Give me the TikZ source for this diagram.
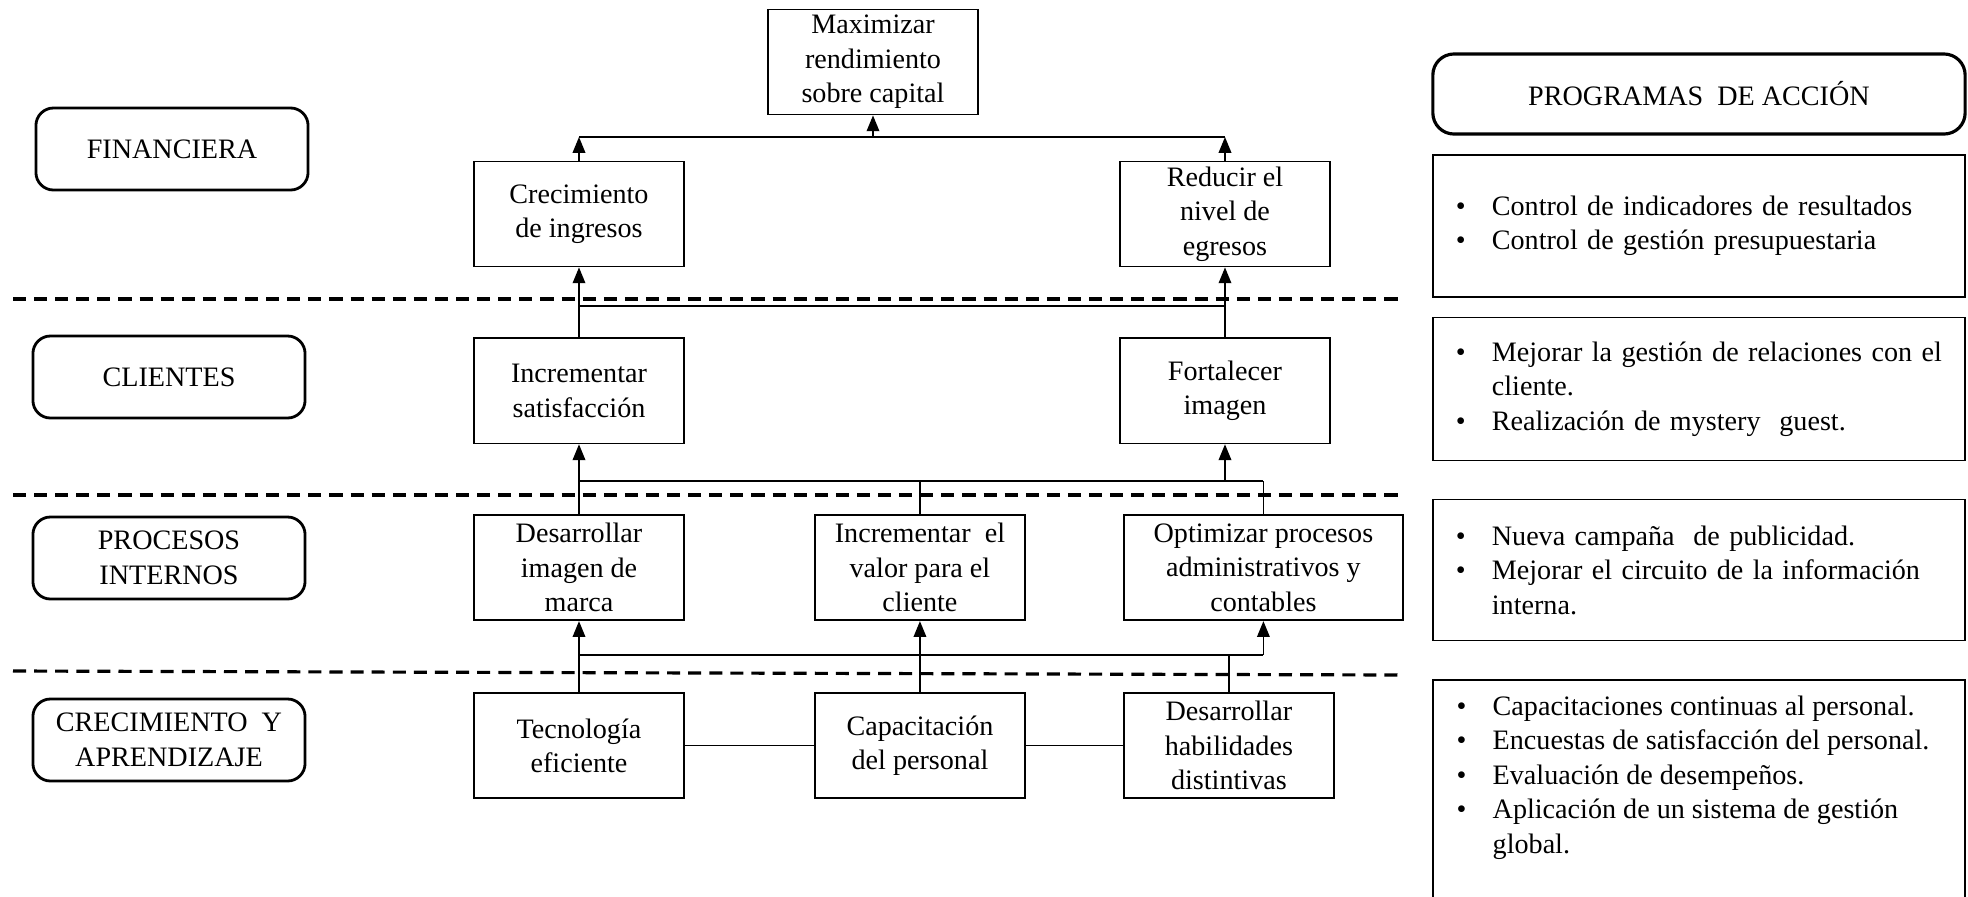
\documentclass[tikz,border=0pt]{standalone}
\usepackage{fontspec}
\setmainfont{Liberation Serif}
\usetikzlibrary{arrows.meta,positioning}
\newcommand{\itm}[1]{\mbox{\makebox[3.6mm][l]{\textbullet}#1}}
\newcommand{\cnt}[1]{\mbox{\hspace*{3.6mm}#1}}

\begin{document}
\begin{tikzpicture}[x=0.01cm, y=-0.01cm,
    txt/.style={font=\fontsize{8}{9.8}\selectfont},
    goal/.style={txt, draw, line width=0.5pt, minimum width=2.1cm, minimum height=1.05cm, align=center, inner sep=1pt},
    lane/.style={txt, draw, line width=0.8pt, rounded corners=5pt, minimum width=2.72cm, minimum height=0.82cm, align=center},
    progbox/.style={txt, draw, line width=0.5pt, minimum width=5.32cm, text width=4.86cm, inner xsep=0.23cm, align=left},
    arr/.style={-{Triangle[length=4.5pt,width=3.6pt]}},
    sep/.style={line width=0.9pt, dash pattern=on 3.7pt off 2.3pt}
  ]
    \clip (0,0) rectangle (1968,896);

    % perspectives
    \node[lane] (fin) at (172,149) {FINANCIERA};
    \node[lane] (cli) at (169,377) {CLIENTES};
    \node[lane] (pro) at (169,558) {PROCESOS\\INTERNOS};
    \node[lane] (cre) at (169,740) {CRECIMIENTO\ \ Y\\APRENDIZAJE};

    % objectives
    \node[goal] (maxi) at (873,62) {Maximizar\\rendimiento\\sobre capital};
    \node[goal] (crec) at (579,214) {Crecimiento\\de ingresos};
    \node[goal] (redu) at (1225,214) {Reducir el\\nivel de\\egresos};
    \node[goal, below=0.7cm of crec] (incs) {Incrementar\\satisfacción};
    \node[goal, below=0.7cm of redu] (fort) {Fortalecer\\imagen};
    \node[goal, below=0.7cm of incs] (desi) {Desarrollar\\imagen de\\marca};
    \node[goal, below=0.71cm of desi] (tecn) {Tecnología\\eficiente};
    \node[goal, right=1.29cm of tecn] (capa) {Capacitación\\del personal};
    \node[goal, right=0.97cm of capa] (habi) {Desarrollar\\habilidades\\distintivas};
    \node[goal, above=0.71cm of capa] (ival) {Incrementar\ \ el\\valor para el\\cliente};
    \node[goal, minimum width=2.79cm, anchor=south west] (opti) at ([yshift=0.71cm]habi.north west) {Optimizar procesos\\administrativos y\\contables};

    % separators
    \draw[sep] (13,299) -- (1398,299);
    \draw[sep] (13,495) -- (1398,495);
    \draw[sep] (13,671) -- (1398,675);

    % links
    \coordinate (busF) at (0,137);
    \coordinate (busC) at (0,306);
    \coordinate (busP) at (0,481);
    \coordinate (busA) at (0,655);
    \draw[arr] (crec.north) -- (crec.north |- busF);
    \draw[arr] (redu.north) -- (redu.north |- busF);
    \draw (crec.north |- busF) -- (redu.north |- busF);
    \draw[arr] (maxi.south |- busF) -- (maxi.south);
    \draw[arr] (incs.north) -- (crec.south);
    \draw[arr] (fort.north) -- (redu.south);
    \draw (crec.south |- busC) -- (redu.south |- busC);
    \draw[arr] (desi.north) -- (incs.south);
    \draw (ival.north) -- (ival.north |- busP);
    \draw (opti.north) -- (opti.north |- busP);
    \draw (desi.north |- busP) -- (opti.north |- busP);
    \draw[arr] (fort.south |- busP) -- (fort.south);
    \draw[arr] (tecn.north) -- (desi.south);
    \draw[arr] (capa.north) -- (ival.south);
    \draw (habi.north) -- (habi.north |- busA);
    \draw (desi.south |- busA) -- (opti.south |- busA);
    \draw[arr] (opti.south |- busA) -- (opti.south);
    \draw (tecn) -- (capa);
    \draw (capa) -- (habi);

    % action programmes
    \node[txt, draw, line width=0.9pt, rounded corners=6pt, minimum width=5.32cm, minimum height=0.8cm] (phead) at (1699,94) {PROGRAMAS\ \ DE ACCIÓN};
    \node[progbox, minimum height=1.42cm] (pa1) at (1699,226) {\itm{Control de indicadores de resultados}\\\itm{Control de gestión presupuestaria}};
    \node[progbox, minimum height=1.43cm] (pa2) at (1699,389) {\itm{Mejorar la gestión de relaciones con el}\\\cnt{cliente.}\\\itm{Realización de mystery\ \ guest.}};
    \node[progbox, minimum height=1.41cm] (pa3) at (1699,570) {\itm{Nueva campaña\ \ de publicidad.}\\\itm{Mejorar el circuito de la información}\\\cnt{interna.}};
    \node[progbox, minimum height=2.6cm, anchor=north] (pa4) at (1699,679) {};
    \node[txt, align=left, inner sep=0pt, anchor=north west] (pa4txt) at (1456,695) {\itm{Capacitaciones continuas al personal.}\\\itm{Encuestas de satisfacción del personal.}\\\itm{Evaluación de desempeños.}\\\itm{Aplicación de un sistema de gestión}\\\cnt{global.}};
\end{tikzpicture}
\end{document}
